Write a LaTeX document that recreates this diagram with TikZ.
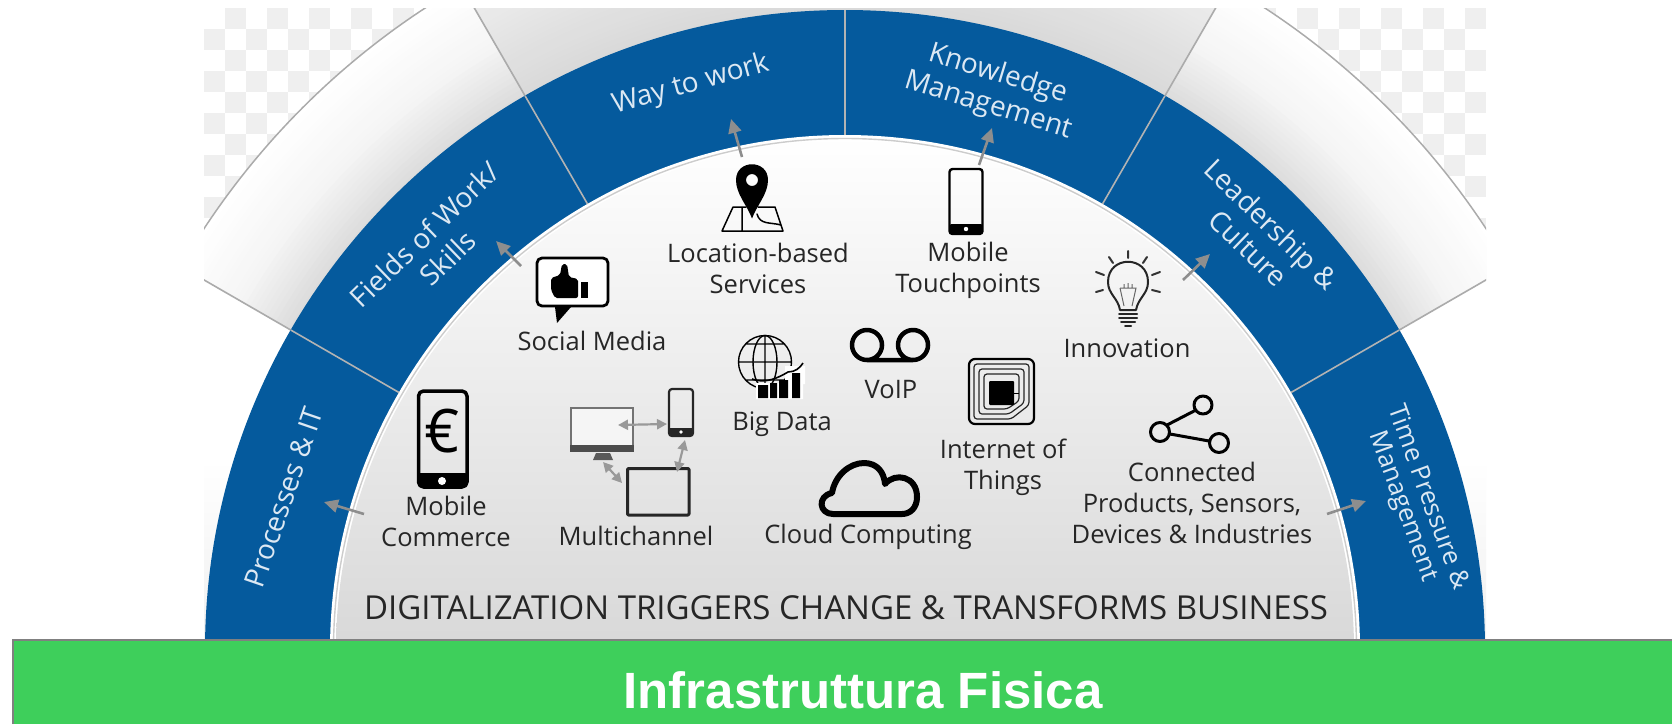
\documentclass[tikz,border=0pt]{standalone}
\usepackage{fontspec}
\setmainfont{Open Sans}
\newfontfamily\arialfont{Liberation Sans}
\usetikzlibrary{arrows.meta}
\definecolor{bandblue}{HTML}{055A9D}
\definecolor{bandtext}{HTML}{DCE8F3}
\definecolor{checkgrey}{HTML}{EFEFEF}
\definecolor{divgrey}{HTML}{ABABAB}
\definecolor{arrgrey}{HTML}{8E8E8E}
\definecolor{inktext}{HTML}{262626}
\definecolor{greenbar}{HTML}{3ECF5B}
\tikzset{
  x=1pt,y=-1pt,
  itemtext/.style={font=\fontsize{25.5}{31}\selectfont,text=inktext,align=center,inner sep=0pt},
  bandlabel/.style={font=\fontsize{28}{33}\selectfont,text=bandtext,align=center,inner sep=0pt},
  greyarrow/.style={draw=arrgrey,line width=2.6pt,-{Triangle[length=14pt,width=13pt]}},
  twoarrow/.style={draw=arrgrey!90,line width=2.2pt,{Triangle[length=10pt,width=10pt]}-{Triangle[length=10pt,width=10pt]}},
  iconline/.style={draw=black,line width=#1,line join=round,line cap=round},
  iconline/.default=2pt,
  divider/.style={draw=divgrey,line width=1.6pt},
}
\begin{document}
\begin{tikzpicture}
\useasboundingbox (0,0) rectangle (1672,724);
\fill[white] (0,0) rectangle (1672,724);
\coordinate (C) at (845,650);
\begin{scope}
\clip (204,8) rectangle (1486,640);
% checkerboard
\foreach \k in {0,...,13}{\foreach \j in {0,...,10}{
  \pgfmathtruncatemacro\odd{mod(\k+\j,2)}
  \ifnum\odd=1
    \fill[checkgrey] ({204+21*\k},{8+21*\j}) rectangle ++(21,21);
  \else
    \fill[checkgrey] ({1486-21*\k},{8+21*\j}) rectangle ++(-21,21);
  \fi }}
\fill[white] (C) circle (767);
% side wedges, light
\begin{scope}
\clip (C) -- +(-150:1300) -- +(-210:1300) -- cycle;
\shade[top color=white,bottom color=black!6,middle color=white] (204,280) rectangle (1486,640);
\end{scope}
\begin{scope}
\clip (C) -- +(-30:1300) -- +(30:1300) -- cycle;
\shade[top color=white,bottom color=black!6,middle color=white] (204,280) rectangle (1486,640);
\end{scope}
% wedges at 120-150 and 30-60
\foreach \a/\b in {-150/-120,-60/-30}{
\begin{scope}
\clip (C) -- +(\a:1300) -- +(\b:1300) -- cycle;
\foreach \r in {767,762,...,637}{
  \pgfmathsetmacro\m{\r>700 ? (767-\r)/67*4 : (4+(700-\r)/60*10)}
  \fill[black!\m!white] (C) circle (\r);
}
\end{scope}}
\begin{scope}
\clip (C) -- +(-120:1300) -- +(-60:1300) -- cycle;
\foreach \r in {767,762,...,637}{
  \pgfmathsetmacro\m{6+(767-\r)/127*9}
  \fill[black!\m!white] (C) circle (\r);
}
\end{scope}
\draw[divgrey,line width=1.5pt] (C) circle (767);
\foreach \a in {-150,-120,-60,-30}{\draw[divider] (C) +(\a:640) -- +(\a:767);}
% blue band
\fill[bandblue] (C) circle (640);
\fill[white] (C) circle (515);
\draw[black!20,line width=1.4pt] (C) circle (511.5);
\begin{scope}
\clip (C) circle (509);
\shade[top color=white,middle color=black!2,bottom color=black!15] (204,135) rectangle (1486,640);
\end{scope}
\foreach \a in {-150,-120,-90,-60,-30}{\draw[divider,draw=divgrey!90!white] (C) +(\a:515) -- +(\a:640);}
\end{scope}
% green bar
\fill[greenbar] (13,640) rectangle (1672,724);
\draw[black!50,line width=1.5pt] (13,724) -- (13,640) -- (1672,640);
\node[font=\arialfont\bfseries\fontsize{51}{51}\selectfont,text=white,inner sep=0pt] (title) at (863,690) {Infrastruttura Fisica};

% band labels
\node[bandlabel,rotate=15.5] (way) at (691,85) {Way to work};
\node[bandlabel,rotate=44] (fields) at (436,246) {Fields of Work/\\Skills};
\node[bandlabel,rotate=71] (proc) at (284,497) {Processes \& IT};
\node[bandlabel,rotate=-17] (know) at (993,90) {Knowledge\\Management};
\node[bandlabel,rotate=-44] (lead) at (1260,236) {Leadership \&\\Culture};
\node[bandlabel,rotate=-70,font=\fontsize{25.5}{26}\selectfont] (time) at (1415,502) {Time Pressure \&\\Management};

% item labels
\node[itemtext] (loc) at (758,268.5) {Location-based\\Services};
\node[itemtext] (touch) at (968,270) {Mobile\\Touchpoints};
\node[itemtext] (social) at (592,341) {Social Media};
\node[itemtext] (innov) at (1127,348) {Innovation};
\node[itemtext] (big) at (782,424) {Big Data};
\node[itemtext] (voip) at (891,390) {VoIP};
\node[itemtext] (iot) at (1003,467) {Internet of\\Things};
\node[itemtext] (comm) at (446,521) {Mobile\\Commerce};
\node[itemtext] (multi) at (636,536) {Multichannel};
\node[itemtext] (cloud) at (868,537) {Cloud Computing};
\node[itemtext] (conn) at (1192,503) {Connected\\Products, Sensors,\\Devices \& Industries};
\node[itemtext,font=\fontsize{33}{34}\selectfont] (digi) at (846,608) {DIGITALIZATION TRIGGERS CHANGE \& TRANSFORMS BUSINESS};

% pin icon
\fill[black,even odd rule] (752,218.5) .. controls (747,205) and (736,194) .. (736,180) .. controls (736,159) and (768,159) .. (768,180) .. controls (768,194) and (757,205) .. (752,218.5) -- cycle (752,180) circle (6);
\draw[iconline=1.5pt] (733,207) -- (722,231) -- (783,231) -- (775,207) -- (758,207) (733,207) -- (746,207) (742,207) -- (742,231) (757,214) .. controls (760,225) and (770,222) .. (781,225);
% thumb icon
\draw[iconline=2.8pt,fill=white,rounded corners=5pt] (537,258) rectangle (608,306);
\fill[black] (555,307) -- (557,323) -- (571,307) -- cycle;
\fill[black,rounded corners=2pt] (551,278) -- (560,275) -- (562,264) -- (567,264) -- (569,277) -- (578,279) -- (578,298) -- (555,298) -- (551,290) -- cycle;
\fill[black] (581,282) rectangle (587.5,298);
% globe
\begin{scope}[line width=1.4pt]
\draw (765,362) circle (26.5) (765,335.5) -- (765,388.5) (738.5,362) -- (791.5,362) (745,344) -- (785,344) (745,380) -- (785,380);
\draw (765,362) ellipse (12 and 26.5);
\end{scope}
\fill[white] (756,383) rectangle (803,399) (785,366) rectangle (805,384);
\fill[black] (758,385) rectangle (768,398) (770,383) rectangle (777,398) (779,380) rectangle (788,398) (792,373) rectangle (800,398);
\draw[black,line width=1.6pt] (752,379) .. controls (765,384) and (778,378) .. (788,372) .. controls (795,372) and (800,368) .. (803,363);
% voip
\draw[iconline=4.5pt] (867,345) circle (15) (913,345) circle (15) (867,360) -- (913,360);
% iot chip
\draw[iconline=2.2pt,rounded corners=6pt] (969,359) rectangle (1034,424);
\draw[black!85,line width=1.2pt,rounded corners=3pt] (974,364) -- (1029,364) -- (1029,405) -- (1011,419) -- (974,419) -- cycle;
\draw[black!85,line width=1.2pt,rounded corners=3pt] (979,369) -- (1024,369) -- (1024,403) -- (1009,414) -- (979,414) -- cycle;
\draw[black!85,line width=1.2pt,rounded corners=3pt] (984,374) -- (1019,374) -- (1019,401) -- (1007,409) -- (984,409) -- cycle;
\fill[black,rounded corners=1pt] (989,381) rectangle (1014,405);
\draw[black,line width=1pt] (1014,393) -- (1019,393);
% cloud
\draw[iconline=6pt] (833,514) .. controls (819,514) and (817,496) .. (832,493) .. controls (835,475) and (850,463) .. (864,463) .. controls (877,463) and (884,472) .. (885,484) .. controls (895,472) and (917,476) .. (917,497) .. controls (917,508) and (910,514) .. (902,514) -- cycle;
% euro phone
\draw[iconline=3.5pt,rounded corners=5pt] (418.5,391) rectangle (467,487);
\fill[black,rounded corners=2pt] (418.5,473) rectangle (467,487);
\fill[white] (442,481) circle (4);
\node[font=\fontsize{60}{60}\selectfont,text=black,inner sep=0pt] (euro) at (442,431) {€};
% touchpoint phone
\draw[iconline=2.4pt,rounded corners=3pt] (949.5,169) rectangle (982.5,234);
\fill[black,rounded corners=1.5pt] (949.5,224) rectangle (982.5,234);
\fill[white] (966,229) circle (2.2);
% multichannel
\draw[draw=black!55,line width=2.2pt,fill=black!4] (571,408) rectangle (633,451);
\fill[black!70] (570,445) rectangle (634,452);
\fill[black!65] (596,453) -- (610,453) -- (613,460) -- (593,460) -- cycle;
\draw[iconline=2.2pt,rounded corners=3pt,draw=black!85] (669,389) rectangle (693,436);
\fill[black!85,rounded corners=1pt] (669,428) rectangle (693,436);
\fill[white] (681,432) circle (1.8);
\draw[iconline=3pt,draw=black!85,rounded corners=1pt] (627.5,468.5) rectangle (689,515);
\coordinate (mon) at (618,425); \coordinate (sph) at (667,424);
\coordinate (sphb) at (685,440); \coordinate (tabt) at (677,472);
\coordinate (mons) at (603,462); \coordinate (tabl) at (622,483);
\draw[twoarrow] (mon) -- (sph);
\draw[twoarrow] (sphb) -- (tabt);
\draw[twoarrow] (mons) -- (tabl);
% bulb
\draw[draw=black!85,line width=2pt,line join=round] (1120,310) .. controls (1118,298) and (1108,294) .. (1108,282) .. controls (1108,255) and (1148,255) .. (1148,282) .. controls (1148,294) and (1138,298) .. (1136,310) -- cycle;
\draw[black!60,line width=1pt] (1120,288) -- (1136,288) -- (1132,306) (1120,288) -- (1124,306) (1124,288) -- (1124,284) (1128,288) -- (1128,283) (1132,288) -- (1132,284);
\draw[black!85,line width=2pt,line cap=round] (1119,314) -- (1137,314) (1119,318) -- (1137,318) (1121,322) -- (1135,322) (1125,326) -- (1131,326);
\draw[black!80,line width=2pt,line cap=round] (1128,251) -- (1128,258) (1109,257) -- (1113,263) (1147,257) -- (1143,263) (1096,272) -- (1104,275) (1160,272) -- (1152,275) (1096,292) -- (1103,290) (1160,292) -- (1152,290);
% share
\draw[iconline=3pt] (1203,405) circle (9) (1160,432) circle (9.5) (1219,443) circle (9.5) (1167,425) -- (1196,410) (1170,434) -- (1209,441);
% grey arrows
\coordinate (a1s) at (742,157); \coordinate (a1e) at (731,119);
\coordinate (a2s) at (521,266); \coordinate (a2e) at (496,241);
\coordinate (a3s) at (979,165); \coordinate (a3e) at (992,128);
\coordinate (a4s) at (1183,280); \coordinate (a4e) at (1210,254);
\coordinate (a5s) at (1327,514); \coordinate (a5e) at (1366,501);
\coordinate (a6s) at (364,514); \coordinate (a6e) at (324,502);
\draw[greyarrow] (a1s) -- (a1e);
\draw[greyarrow] (a2s) -- (a2e);
\draw[greyarrow] (a3s) -- (a3e);
\draw[greyarrow] (a4s) -- (a4e);
\draw[greyarrow] (a5s) -- (a5e);
\draw[greyarrow] (a6s) -- (a6e);
\end{tikzpicture}
\end{document}
